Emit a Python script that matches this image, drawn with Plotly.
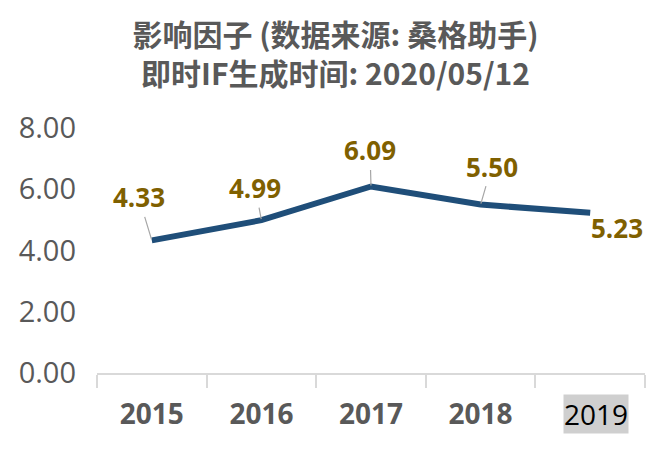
import plotly.graph_objects as go

# data
years = ["2015", "2016", "2017", "2018", "2019"]
impact = [4.33, 4.99, 6.09, 5.50, 5.23]
y_ticks = [0, 2, 4, 6, 8]
# label offsets (pixels) relative to each point
label_dx = [-13, -6, -1, 11, 27]
label_dy = [-43, -32, -36, -38, 15]

title_text = "影响因子 (数据来源: 桑格助手)<br>即时IF生成时间: 2020/05/12"

grey = "#595959"
line_blue = "#1F4E79"
label_gold = "#7F6000"

# last year label sits on a grey box in the reference, others bold grey
tick_text = ["<b>%s</b>" % y for y in years[:-1]] + [""]

# page body adds an 8px offset, so the figure is drawn a bit smaller
W, H = 655, 441

fig = go.Figure()
fig.add_trace(go.Scatter(
    x=list(range(len(years))),
    y=impact,
    mode="lines",
    line=dict(color=line_blue, width=6),
    hoverinfo="skip",
))

# data labels with grey leader lines
for i, val in enumerate(impact):
    if i == len(years) - 1:
        fig.add_annotation(x=i, y=val, xref="x", yref="y", text="<b>%.2f</b>" % val,
                           showarrow=False, xshift=label_dx[i], yshift=-label_dy[i],
                           font=dict(size=26, color=label_gold, family="Open Sans"))
    else:
        fig.add_annotation(x=i, y=val, xref="x", yref="y", text="<b>%.2f</b>" % val,
                           showarrow=True, arrowhead=0, arrowwidth=1.2, arrowcolor="#a6a6a6",
                           ax=label_dx[i], ay=label_dy[i], standoff=1,
                           font=dict(size=26, color=label_gold, family="Open Sans"))

# grey box behind the 2019 tick label
fig.add_annotation(x=len(years) - 1, y=0, xref="x", yref="y", text=years[-1], showarrow=False,
                   yshift=-41, xshift=6, bgcolor="#cfcfcf", borderpad=0,
                   font=dict(size=28, color="black", family="Open Sans"))

fig.update_layout(
    title=dict(text="<b>" + title_text + "</b>", x=0.5, xanchor="center",
               yref="container", y=0.914, yanchor="bottom",
               font=dict(size=30, color=grey, family="Noto Sans CJK SC")),
    width=W, height=H,
    margin=dict(l=89, r=18, t=120, b=76),
    plot_bgcolor="white",
    paper_bgcolor="white",
    showlegend=False,
    font=dict(family="Open Sans", color=grey),
)

fig.update_xaxes(
    tickmode="array",
    tickvals=[i - 0.5 for i in range(len(years) + 1)],
    ticktext=[""] * (len(years) + 1),
    ticks="outside", ticklen=13, tickcolor="#d9d9d9", tickwidth=1.5,
    showline=True, linecolor="#d9d9d9", linewidth=1.5,
    showgrid=False, zeroline=False,
    range=[-0.5, len(years) - 0.5],
)

# category labels through a second x axis sharing the same scale
fig.update_layout(xaxis2=dict(
    overlaying="x", side="bottom", matches="x", anchor="y",
    tickmode="array", tickvals=list(range(len(years))), ticktext=tick_text,
    ticks="", showline=False, showgrid=False, zeroline=False,
    tickfont=dict(size=28, color=grey, family="Open Sans"),
    ticklabelstandoff=22,
))
fig.add_trace(go.Scatter(x=[0], y=[None], xaxis="x2", showlegend=False, hoverinfo="skip"))

fig.update_yaxes(
    range=[0, 8],
    tickvals=y_ticks,
    tickformat=".2f",
    showgrid=False, zeroline=False, showline=False,
    tickfont=dict(size=29, color=grey, family="Open Sans"),
    ticklabelstandoff=20,
)

fig.write_html("out.html")
